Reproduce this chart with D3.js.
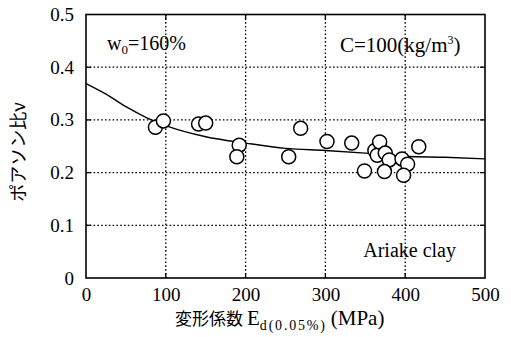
<!DOCTYPE html>
<html><head><meta charset="utf-8">
<script src="https://cdn.jsdelivr.net/npm/d3@7"></script>
<style>body{margin:0;background:#fff}svg{display:block}
.sf{font-family:"Liberation Serif","Tinos","Times New Roman",Times,serif}
.jp{font-family:"Noto Sans CJK JP","Noto Sans",sans-serif}
</style>
</head><body>
<svg id="c" width="511" height="337"></svg>
<script>
// data
const pointsE  = [87, 97, 141, 150, 192, 189, 254, 269, 302, 333, 349, 362, 365, 368, 375, 380, 374, 396, 403, 398, 417];
const pointsNu = [0.286, 0.298, 0.292, 0.294, 0.252, 0.230, 0.230, 0.284, 0.259, 0.256, 0.203, 0.242, 0.233, 0.258, 0.237, 0.224, 0.202, 0.226, 0.216, 0.195, 0.249];
const curveE  = [0, 25, 50, 75, 100, 150, 200, 250, 300, 350, 400, 450, 500];
const curveNu = [0.369, 0.349, 0.325, 0.305, 0.289, 0.268, 0.256, 0.246, 0.242, 0.237, 0.231, 0.229, 0.226];
const xTicks = [0, 100, 200, 300, 400, 500];
const yTicks = [0, 0.1, 0.2, 0.3, 0.4, 0.5];

const svg = d3.select("#c");
const L = 86, R = 485, T = 14.5, B = 278;
const x = d3.scaleLinear().domain([0, 500]).range([L, R]);
const y = d3.scaleLinear().domain([0, 0.5]).range([B, T]);

// grid
const g = svg.append("g");
const dash = "1.6,2.2";
g.selectAll(".gx").data(xTicks.slice(1, -1)).join("line")
  .attr("x1", d => x(d)).attr("x2", d => x(d)).attr("y1", T).attr("y2", B)
  .attr("stroke", "#000").attr("stroke-width", 1.3).attr("stroke-dasharray", dash);
g.selectAll(".gy").data(yTicks.slice(1, -1)).join("line")
  .attr("y1", d => y(d)).attr("y2", d => y(d)).attr("x1", L).attr("x2", R)
  .attr("stroke", "#000").attr("stroke-width", 1.3).attr("stroke-dasharray", dash);

// inner ticks
g.selectAll(".tb").data(xTicks.slice(1, -1)).join("line")
  .attr("x1", d => x(d)).attr("x2", d => x(d)).attr("y1", B).attr("y2", B - 5)
  .attr("stroke", "#000").attr("stroke-width", 1.3);
g.selectAll(".tt").data(xTicks.slice(1, -1)).join("line")
  .attr("x1", d => x(d)).attr("x2", d => x(d)).attr("y1", T).attr("y2", T + 5)
  .attr("stroke", "#000").attr("stroke-width", 1.3);
g.selectAll(".tl").data(yTicks.slice(1, -1)).join("line")
  .attr("y1", d => y(d)).attr("y2", d => y(d)).attr("x1", L).attr("x2", L + 5)
  .attr("stroke", "#000").attr("stroke-width", 1.3);
g.selectAll(".tr").data(yTicks.slice(1, -1)).join("line")
  .attr("y1", d => y(d)).attr("y2", d => y(d)).attr("x1", R).attr("x2", R - 5)
  .attr("stroke", "#000").attr("stroke-width", 1.3);

// axes labels via d3 axes
const ax = svg.append("g").attr("transform", `translate(0,${B})`)
  .call(d3.axisBottom(x).tickValues(xTicks).tickFormat(d3.format("d")).tickSize(0).tickPadding(10));
ax.select(".domain").remove();
ax.attr("font-family", null);
ax.selectAll("text").attr("class", "sf").attr("font-size", 19).attr("fill", "#000").attr("dy", "0.71em");

const ay = svg.append("g").attr("transform", `translate(${L},0)`)
  .call(d3.axisLeft(y).tickValues(yTicks).tickFormat(d => d === 0 ? "0" : d3.format(".1f")(d)).tickSize(0).tickPadding(12));
ay.select(".domain").remove();
ay.attr("font-family", null);
ay.selectAll("text").attr("class", "sf").attr("font-size", 19).attr("fill", "#000");

// curve
const line = d3.line().x((d, i) => x(curveE[i])).y(d => y(d)).curve(d3.curveMonotoneX);
svg.append("path").datum(curveNu).attr("d", line)
  .attr("fill", "none").attr("stroke", "#000").attr("stroke-width", 1.4);

// points
svg.append("g").selectAll("circle").data(pointsE).join("circle")
  .attr("cx", d => x(d)).attr("cy", (d, i) => y(pointsNu[i])).attr("r", 7)
  .attr("fill", "#fff").attr("stroke", "#000").attr("stroke-width", 1.5);

// frame
svg.append("rect").attr("x", L).attr("y", T).attr("width", R - L).attr("height", B - T)
  .attr("fill", "none").attr("stroke", "#000").attr("stroke-width", 1.6);

// annotations
const t1 = svg.append("text").attr("class", "sf").attr("x", 107).attr("y", 50).attr("font-size", 20);
t1.append("tspan").text("w");
t1.append("tspan").attr("font-size", 13).attr("dy", 4).text("0");
t1.append("tspan").attr("dy", -4).text("=160%");

const t2 = svg.append("text").attr("class", "sf").attr("x", 340).attr("y", 52).attr("font-size", 21);
t2.append("tspan").text("C=100(kg/m");
t2.append("tspan").attr("font-size", 12).attr("dy", -8).text("3");
t2.append("tspan").attr("dy", 8).text(")");

svg.append("text").attr("class", "sf").attr("x", 456).attr("y", 257).attr("text-anchor", "end")
  .attr("font-size", 20).text("Ariake clay");

// x title
const xt = svg.append("text").attr("x", 175).attr("y", 325).attr("font-size", 17);
xt.append("tspan").attr("class", "jp").text("変形係数");
xt.append("tspan").attr("class", "sf").attr("font-size", 21).attr("dx", 4).text("E");
xt.append("tspan").attr("class", "sf").attr("font-size", 14).attr("letter-spacing", 1.8).attr("dy", 5).text("d(0.05%)");
xt.append("tspan").attr("class", "sf").attr("font-size", 21).attr("dy", -5).attr("dx", 4).text("(MPa)");

// y title
svg.append("text").attr("class", "jp").attr("transform", "translate(25,152) rotate(-90)").attr("text-anchor", "middle")
  .attr("font-size", 18).text("ポアソン比ν");
</script>
</body></html>
